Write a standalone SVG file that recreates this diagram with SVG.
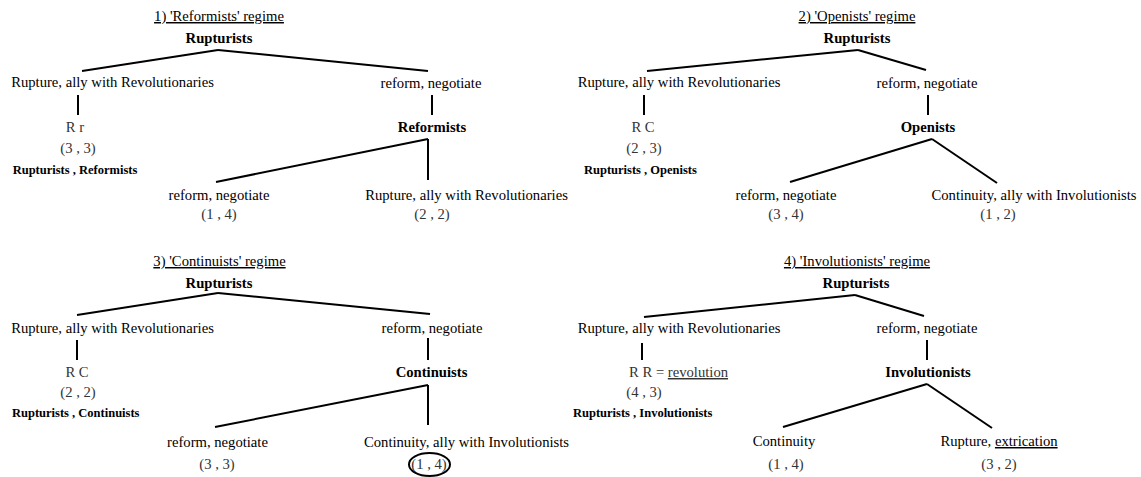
<svg xmlns="http://www.w3.org/2000/svg" width="1141" height="477" viewBox="0 0 1141 477">
<style>
text{font-family:"Liberation Serif","Times New Roman",serif;font-size:14.67px;fill:#000}
.m{text-anchor:middle}
.b{font-weight:bold}
.t{text-decoration:underline;text-anchor:middle}
.v{fill:#333;text-anchor:middle}
.o{font-weight:bold;font-size:12.5px}
.u{text-decoration:underline}
line,ellipse{stroke:#000;stroke-width:2;fill:none}
</style>
<rect width="1141" height="477" fill="#fff"/>
<g id="connectors">
<line x1="218" y1="50" x2="82" y2="71"/>
<line x1="218" y1="50" x2="428" y2="71"/>
<line x1="78" y1="95" x2="78" y2="115"/>
<line x1="432" y1="95" x2="432" y2="115"/>
<line x1="428" y1="139" x2="216" y2="182"/>
<line x1="428" y1="139" x2="428" y2="180"/>
<line x1="858" y1="50" x2="647" y2="71"/>
<line x1="858" y1="50" x2="926" y2="70"/>
<line x1="644" y1="95" x2="644" y2="115"/>
<line x1="928" y1="95" x2="928" y2="115"/>
<line x1="932" y1="139" x2="790" y2="182"/>
<line x1="932" y1="139" x2="997" y2="183"/>
<line x1="218" y1="293" x2="77" y2="315"/>
<line x1="218" y1="293" x2="430" y2="314"/>
<line x1="77" y1="340" x2="77" y2="360"/>
<line x1="428" y1="338" x2="428" y2="360"/>
<line x1="428" y1="385" x2="215" y2="427"/>
<line x1="428" y1="385" x2="428" y2="425"/>
<line x1="855" y1="295" x2="644" y2="317"/>
<line x1="855" y1="295" x2="924" y2="316"/>
<line x1="642" y1="343" x2="642" y2="360"/>
<line x1="927" y1="340" x2="927" y2="360"/>
<line x1="927" y1="384" x2="783" y2="427"/>
<line x1="927" y1="384" x2="992" y2="428"/>
</g>
<g id="p1">
<text id="p1-title" class="t" x="219" y="21">1) 'Reformists' regime</text>
<g id="p1-root"><text class="m b" x="219" y="43">Rupturists</text></g>
<g id="p1-a1"><text class="m" x="112.5" y="87">Rupture, ally with Revolutionaries</text></g>
<g id="p1-a2"><text class="m" x="431" y="88">reform, negotiate</text></g>
<g id="p1-out1"><text class="v" x="75" y="132">R r</text><text class="v" x="78" y="153">(3 , 3)</text><text class="o" x="12.7" y="174">Rupturists , Reformists</text></g>
<g id="p1-n2"><text class="m b" x="432" y="132">Reformists</text></g>
<g id="p1-l1"><text class="m" x="219" y="200">reform, negotiate</text><text class="v" x="219" y="219">(1 , 4)</text></g>
<g id="p1-l2"><text class="m" x="466.5" y="200">Rupture, ally with Revolutionaries</text><text class="v" x="432" y="219">(2 , 2)</text></g>
</g>
<g id="p2">
<text id="p2-title" class="t" x="857" y="21">2) 'Openists' regime</text>
<g id="p2-root"><text class="m b" x="857" y="43">Rupturists</text></g>
<g id="p2-a1"><text class="m" x="679" y="87">Rupture, ally with Revolutionaries</text></g>
<g id="p2-a2"><text class="m" x="927" y="88">reform, negotiate</text></g>
<g id="p2-out1"><text class="v" x="643" y="132">R C</text><text class="v" x="644" y="153">(2 , 3)</text><text class="o" x="584" y="174">Rupturists , Openists</text></g>
<g id="p2-n2"><text class="m b" x="928" y="132">Openists</text></g>
<g id="p2-l1"><text class="m" x="786" y="200">reform, negotiate</text><text class="v" x="786" y="219">(3 , 4)</text></g>
<g id="p2-l2"><text class="m" x="1034" y="200">Continuity, ally with Involutionists</text><text class="v" x="998" y="219">(1 , 2)</text></g>
</g>
<g id="p3">
<text id="p3-title" class="t" x="219.5" y="266">3) 'Continuists' regime</text>
<g id="p3-root"><text class="m b" x="219" y="288">Rupturists</text></g>
<g id="p3-a1"><text class="m" x="112.5" y="333">Rupture, ally with Revolutionaries</text></g>
<g id="p3-a2"><text class="m" x="432" y="333">reform, negotiate</text></g>
<g id="p3-out1"><text class="v" x="77" y="377">R C</text><text class="v" x="78" y="397">(2 , 2)</text><text class="o" x="12" y="417">Rupturists , Continuists</text></g>
<g id="p3-n2"><text class="m b" x="431.5" y="377">Continuists</text></g>
<g id="p3-l1"><text class="m" x="217.5" y="447">reform, negotiate</text><text class="v" x="217" y="469">(3 , 3)</text></g>
<g id="p3-l2"><text class="m" x="466.5" y="447">Continuity, ally with Involutionists</text><text class="v" x="429" y="469">(1 , 4)</text><ellipse cx="429.5" cy="464.5" rx="20.5" ry="11.5"/></g>
</g>
<g id="p4">
<text id="p4-title" class="t" x="857" y="266">4) 'Involutionists' regime</text>
<g id="p4-root"><text class="m b" x="856" y="288">Rupturists</text></g>
<g id="p4-a1"><text class="m" x="679" y="333">Rupture, ally with Revolutionaries</text></g>
<g id="p4-a2"><text class="m" x="927" y="333">reform, negotiate</text></g>
<g id="p4-out1"><text x="629" y="377" style="fill:#333">R R = <tspan class="u">revolution</tspan></text><text class="v" x="644" y="397">(4 , 3)</text><text class="o" x="573" y="417">Rupturists , Involutionists</text></g>
<g id="p4-n2"><text class="m b" x="928" y="377">Involutionists</text></g>
<g id="p4-l1"><text class="m" x="784" y="446">Continuity</text><text class="v" x="786" y="469">(1 , 4)</text></g>
<g id="p4-l2"><text class="m" x="999" y="446">Rupture, <tspan class="u">extrication</tspan></text><text class="v" x="999" y="469">(3 , 2)</text></g>
</g>
</svg>
